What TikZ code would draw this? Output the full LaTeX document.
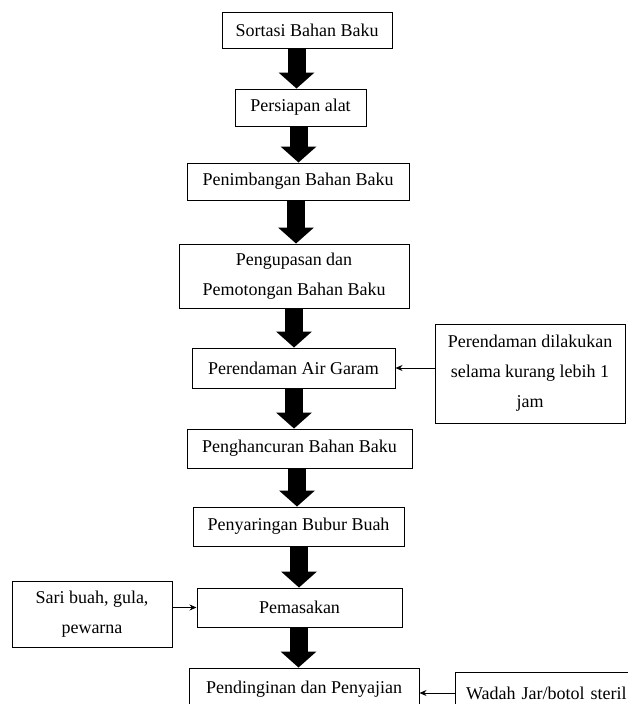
\documentclass[tikz,border=0pt]{standalone}
\usepackage{fontspec}
\setmainfont{Liberation Serif}
\usetikzlibrary{arrows.meta,calc}
\begin{document}
\begin{tikzpicture}[x=1pt,y=-1pt,
  box/.style={draw,line width=1pt,inner sep=0pt,align=center,font=\fontsize{18}{30}\selectfont},
  flow/.style={line width=18pt,-{Triangle[width=36pt,length=16pt,line width=0pt]}},
  side/.style={line width=0.9pt,-{Stealth[length=7pt,width=6pt]}}]
\useasboundingbox (0,0) rectangle (628,704);
\clip (0,0) rectangle (628,704);
\fill[white] (0,0) rectangle (628,704);
% main column
\node[box,minimum width=170,minimum height=36] (b1) at (307,30) {Sortasi Bahan Baku};
\node[box,minimum width=131,minimum height=37] (b2) at (300.5,107.5) {Persiapan alat};
\node[box,minimum width=222,minimum height=37] (b3) at (298,181.5) {Penimbangan Bahan Baku};
\node[box,minimum width=230,minimum height=64] (b4) at (294,276) {Pengupasan dan\\Pemotongan Bahan Baku};
\node[box,minimum width=203,minimum height=40] (b5) at (293.5,368) {Perendaman Air Garam};
\node[box,minimum width=225,minimum height=39] (b6) at (299.5,448.5) {Penghancuran Bahan Baku};
\node[box,minimum width=211,minimum height=39] (b7) at (298.5,526.5) {Penyaringan Bubur Buah};
\node[box,minimum width=205,minimum height=39] (b8) at (299.5,607.5) {Pemasakan};
\node[box,minimum width=230,minimum height=42] (b9) at (304,689) {Pendinginan dan Penyajian};
% side boxes
\node[box,minimum width=190,minimum height=99] (s1) at (530,373.5) {Perendaman dilakukan\\selama kurang lebih 1\\jam};
\node[box,minimum width=160,minimum height=66] (s2) at (92,614) {Sari buah, gula,\\pewarna};
\node[box,minimum width=200,minimum height=42,text width=190,align=left] (s3) at (555,693) {\hspace*{6pt}Wadah Jar/botol steril};
% flow arrows
\draw[flow] (b1.south -| 296.5,0) -- (b2.north -| 296.5,0);
\draw[flow] (b2.south -| 298.5,0) -- (b3.north -| 298.5,0);
\draw[flow] (b3.south -| 296,0) -- (b4.north -| 296,0);
\draw[flow] (b4.south -| 294,0) -- (b5.north -| 294,0);
\draw[flow] (b5.south -| 294,0) -- (b6.north -| 294,0);
\draw[flow] (b6.south -| 297,0) -- (b7.north -| 297,0);
\draw[flow] (b7.south -| 299,0) -- (b8.north -| 299,0);
\draw[flow] (b8.south -| 298.5,0) -- (b9.north -| 298.5,0);
% side arrows
\draw[side] (s1.west |- b5.east) -- (b5.east);
\draw[side] (s2.east |- b8.west) -- (b8.west);
\draw[side] (s3.west) -- (b9.east |- s3.west);
\end{tikzpicture}
\end{document}
